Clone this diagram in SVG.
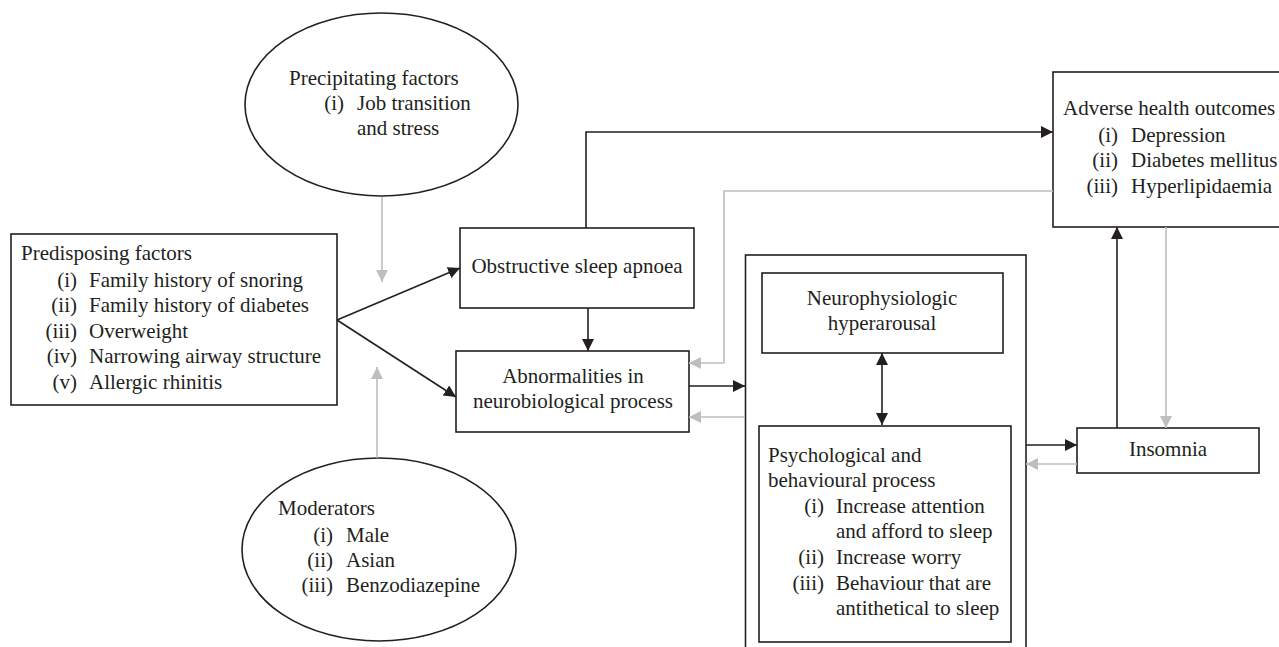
<svg xmlns="http://www.w3.org/2000/svg" width="1279" height="647" viewBox="0 0 1279 647">
<style>
text{font-family:"Liberation Serif","Times New Roman",serif;font-size:21px;fill:#231f20}
.c{text-anchor:middle}
.e{text-anchor:end}
.box{fill:#fff;stroke:#231f20;stroke-width:1.6}
.blk{fill:none;stroke:#231f20;stroke-width:1.6}
.gry{fill:none;stroke:#bcbec0;stroke-width:1.6}
</style>
<defs>
<marker id="ab" viewBox="0 0 12 12" refX="12" refY="6" markerWidth="12" markerHeight="12" markerUnits="userSpaceOnUse" orient="auto"><path d="M0,0 L12,6 L0,12 z" fill="#231f20"/></marker>
<marker id="abs" viewBox="0 0 12 12" refX="0" refY="6" markerWidth="12" markerHeight="12" markerUnits="userSpaceOnUse" orient="auto"><path d="M12,0 L0,6 L12,12 z" fill="#231f20"/></marker>
<marker id="ag" viewBox="0 0 12 12" refX="12" refY="6" markerWidth="12" markerHeight="12" markerUnits="userSpaceOnUse" orient="auto"><path d="M0,0 L12,6 L0,12 z" fill="#bcbec0"/></marker>
</defs>
<rect width="1279" height="647" fill="#fff"/>

<g id="outer-box"><rect class="box" x="745.5" y="255" width="280.5" height="410"/></g>

<g id="precipitating">
<ellipse class="box" cx="381.5" cy="104.5" rx="136.5" ry="91.5"/>
<text x="289" y="85">Precipitating factors</text>
<text class="e" x="344" y="110">(i)</text><text x="357" y="110">Job transition</text>
<text x="357" y="135">and stress</text>
</g>

<g id="predisposing">
<rect class="box" x="11" y="234" width="326" height="171"/>
<text x="21" y="260">Predisposing factors</text>
<text class="e" x="77" y="287">(i)</text><text x="89" y="287">Family history of snoring</text>
<text class="e" x="77" y="312">(ii)</text><text x="89" y="312">Family history of diabetes</text>
<text class="e" x="77" y="338">(iii)</text><text x="89" y="338">Overweight</text>
<text class="e" x="77" y="363">(iv)</text><text x="89" y="363">Narrowing airway structure</text>
<text class="e" x="77" y="389">(v)</text><text x="89" y="389">Allergic rhinitis</text>
</g>

<g id="moderators">
<ellipse class="box" cx="379" cy="549.5" rx="137" ry="91.5"/>
<text x="278" y="515">Moderators</text>
<text class="e" x="333" y="542">(i)</text><text x="346" y="542">Male</text>
<text class="e" x="333" y="567">(ii)</text><text x="346" y="567">Asian</text>
<text class="e" x="333" y="592">(iii)</text><text x="346" y="592">Benzodiazepine</text>
</g>

<g id="osa">
<rect class="box" x="460" y="228" width="234" height="80"/>
<text class="c" x="577" y="273">Obstructive sleep apnoea</text>
</g>

<g id="abnormalities">
<rect class="box" x="456" y="351" width="233" height="81"/>
<text class="c" x="573" y="383">Abnormalities in</text>
<text class="c" x="573" y="408">neurobiological process</text>
</g>

<g id="neurophysiologic">
<rect class="box" x="762" y="273" width="241" height="80"/>
<text class="c" x="882" y="305">Neurophysiologic</text>
<text class="c" x="882" y="330">hyperarousal</text>
</g>

<g id="psychological">
<rect class="box" x="759" y="426" width="252" height="216"/>
<text x="768" y="462">Psychological and</text>
<text x="768" y="487">behavioural process</text>
<text class="e" x="824" y="513">(i)</text><text x="836" y="513">Increase attention</text>
<text x="836" y="538">and afford to sleep</text>
<text class="e" x="824" y="564">(ii)</text><text x="836" y="564">Increase worry</text>
<text class="e" x="824" y="590">(iii)</text><text x="836" y="590">Behaviour that are</text>
<text x="836" y="615">antithetical to sleep</text>
</g>

<g id="insomnia">
<rect class="box" x="1077" y="428" width="182" height="45"/>
<text class="c" x="1168" y="456">Insomnia</text>
</g>

<g id="adverse">
<rect class="box" x="1053" y="72" width="240" height="155"/>
<text x="1063" y="115">Adverse health outcomes</text>
<text class="e" x="1118" y="142">(i)</text><text x="1131" y="142">Depression</text>
<text class="e" x="1118" y="167">(ii)</text><text x="1131" y="167">Diabetes mellitus</text>
<text class="e" x="1118" y="193">(iii)</text><text x="1131" y="193">Hyperlipidaemia</text>
</g>

<g id="connectors">
<line class="blk" x1="337" y1="320" x2="460" y2="268" marker-end="url(#ab)"/>
<line class="blk" x1="337" y1="320" x2="456" y2="397" marker-end="url(#ab)"/>
<line class="gry" x1="382" y1="197" x2="382" y2="282" marker-end="url(#ag)"/>
<line class="gry" x1="377" y1="458" x2="377" y2="367" marker-end="url(#ag)"/>
<path class="blk" d="M586,228 V132 H1053" marker-end="url(#ab)"/>
<path class="blk" d="M588,308 V351" marker-end="url(#ab)"/>
<path class="gry" d="M1053,191 H724 V363 H689" marker-end="url(#ag)"/>
<path class="blk" d="M689,386 H745" marker-end="url(#ab)"/>
<path class="gry" d="M745,417 H689" marker-end="url(#ag)"/>
<path class="blk" d="M882,353 V425" marker-start="url(#abs)" marker-end="url(#ab)"/>
<path class="blk" d="M1026,445 H1077" marker-end="url(#ab)"/>
<path class="gry" d="M1077,464 H1026" marker-end="url(#ag)"/>
<path class="blk" d="M1117,428 V227" marker-end="url(#ab)"/>
<path class="gry" d="M1166,227 V428" marker-end="url(#ag)"/>
</g>
</svg>
